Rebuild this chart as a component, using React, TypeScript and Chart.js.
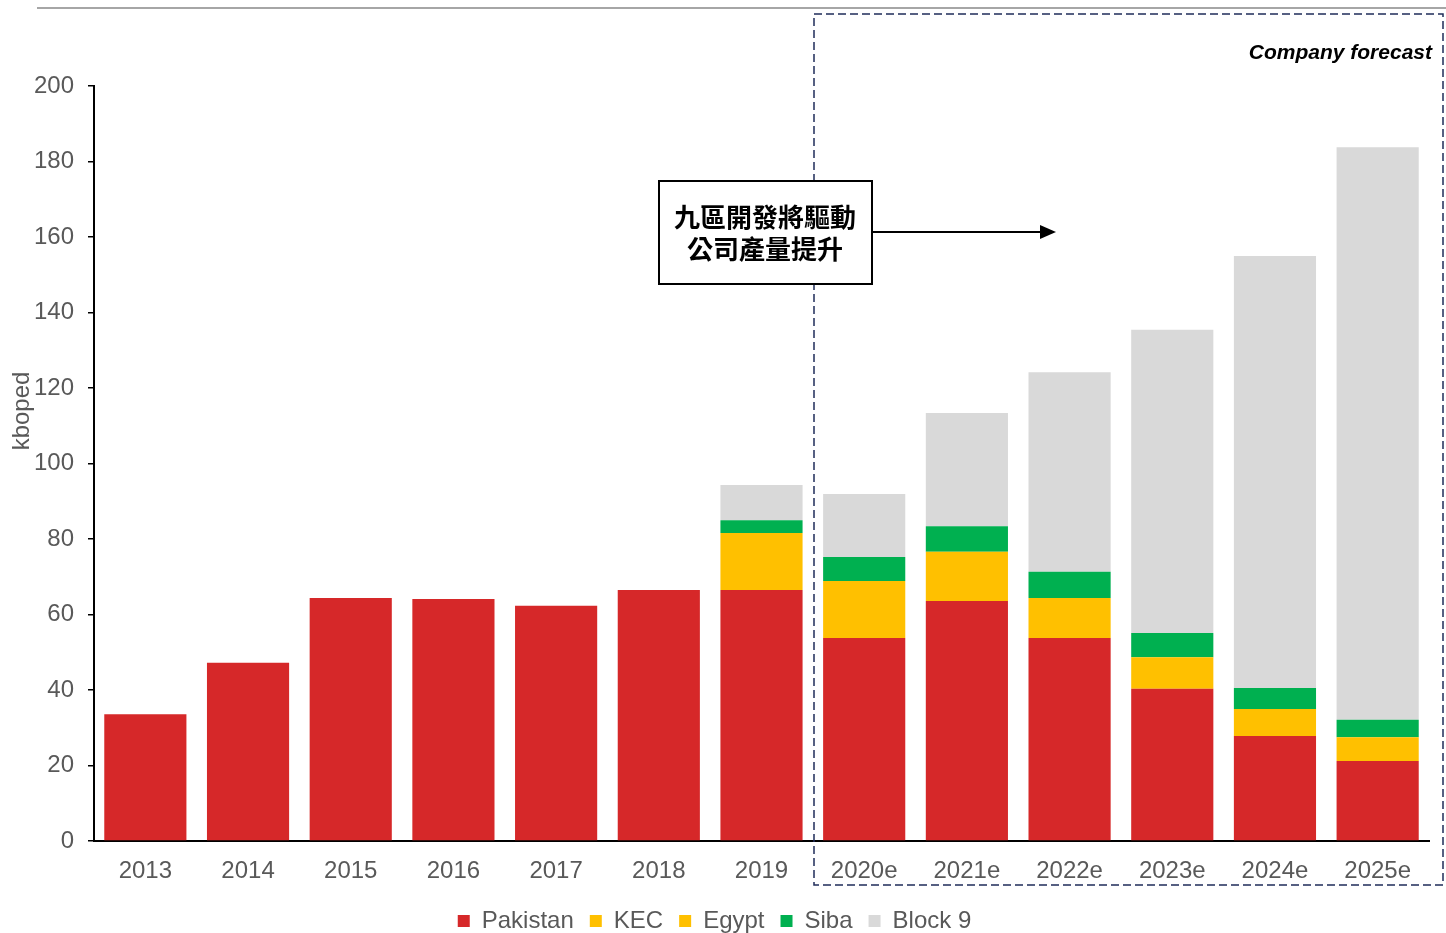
import React, { useEffect, useRef } from 'react';
import { Chart, registerables } from 'chart.js';

Chart.register(...registerables);

const categories = ['2013', '2014', '2015', '2016', '2017', '2018', '2019', '2020e', '2021e', '2022e', '2023e', '2024e', '2025e'];
const pakistan = [33.6, 47.2, 64.4, 64.1, 62.3, 66.5, 66.5, 53.8, 63.6, 53.8, 40.3, 27.8, 21.2];
const kec = [0, 0, 0, 0, 0, 0, 15.1, 15.1, 13.0, 10.6, 8.4, 7.2, 6.3];
const egypt = [0, 0, 0, 0, 0, 0, 0, 0, 0, 0, 0, 0, 0];
const siba = [0, 0, 0, 0, 0, 0, 3.4, 6.3, 6.8, 6.9, 6.4, 5.5, 4.6];
const block9 = [0, 0, 0, 0, 0, 0, 9.3, 16.7, 30.0, 52.9, 80.3, 114.5, 151.7];
const yTicks = [0, 20, 40, 60, 80, 100, 120, 140, 160, 180, 200];

const seriesNames = ['Pakistan', 'KEC', 'Egypt', 'Siba', 'Block 9'];
const seriesColors = ['#D62829', '#FFC000', '#FFC000', '#00B050', '#D9D9D9'];

const yTitle = 'kboped';
const forecastLabel = 'Company forecast';
const noteLines = ['九區開發將驅動', '公司產量提升'];

const FONT = "'Liberation Sans', Arial, sans-serif";
const GREY = '#595959';

export default function App() {
  const ref = useRef<HTMLCanvasElement | null>(null);

  useEffect(() => {
    if (!ref.current) return;
    const overlay = {
      id: 'overlay',
      afterDraw(chart: any) {
        const ctx = chart.ctx as CanvasRenderingContext2D;
        ctx.save();
        // top grey rule
        ctx.strokeStyle = '#A6A6A6';
        ctx.lineWidth = 2;
        ctx.beginPath();
        ctx.moveTo(37, 8);
        ctx.lineTo(1446, 8);
        ctx.stroke();

        // dashed forecast box
        ctx.strokeStyle = '#1F2D5A';
        ctx.lineWidth = 1.5;
        ctx.setLineDash([8, 4]);
        ctx.strokeRect(814, 14, 629, 871);
        ctx.setLineDash([]);

        // Company forecast
        ctx.fillStyle = '#000';
        ctx.font = `italic bold 21px ${FONT}`;
        ctx.textAlign = 'right';
        ctx.textBaseline = 'middle';
        ctx.fillText(forecastLabel, 1432, 53);

        // annotation box
        ctx.fillStyle = '#fff';
        ctx.fillRect(658, 180, 214, 104);
        ctx.strokeStyle = '#000';
        ctx.lineWidth = 2;
        ctx.strokeRect(659, 181, 213, 103);
        ctx.fillStyle = '#000';
        ctx.font = `bold 26px 'Noto Sans CJK TC', sans-serif`;
        ctx.textAlign = 'center';
        ctx.textBaseline = 'middle';
        ctx.fillText(noteLines[0], 765, 217);
        ctx.fillText(noteLines[1], 765, 249);

        // arrow
        ctx.beginPath();
        ctx.moveTo(873, 232);
        ctx.lineTo(1042, 232);
        ctx.stroke();
        ctx.beginPath();
        ctx.moveTo(1056, 232);
        ctx.lineTo(1040, 225);
        ctx.lineTo(1040, 239);
        ctx.closePath();
        ctx.fill();

        // y axis title
        ctx.translate(22, 411);
        ctx.rotate(-Math.PI / 2);
        ctx.fillStyle = GREY;
        ctx.font = `24px ${FONT}`;
        ctx.textAlign = 'center';
        ctx.textBaseline = 'middle';
        ctx.fillText(yTitle, 0, 0);
        ctx.restore();
      },
    };

    const seriesData = [pakistan, kec, egypt, siba, block9];
    const chart = new Chart(ref.current, {
      type: 'bar',
      data: {
        labels: categories,
        datasets: seriesNames.map((name, i) => ({
          label: name,
          data: seriesData[i],
          backgroundColor: seriesColors[i],
          borderWidth: 0,
          barPercentage: 0.8,
          categoryPercentage: 1,
        })),
      },
      options: {
        responsive: false,
        animation: false,
        layout: { padding: { top: 86, right: 17, left: 0, bottom: 0 } },
        plugins: {
          legend: {
            position: 'bottom',
            labels: {
              boxWidth: 12,
              boxHeight: 12,
              padding: 16,
              color: GREY,
              font: { size: 24, family: FONT },
            },
          },
          tooltip: { enabled: false },
        },
        scales: {
          x: {
            stacked: true,
            grid: { display: false },
            border: { display: true, color: '#000', width: 2 },
            ticks: { color: GREY, font: { size: 24, family: FONT }, padding: 8, maxRotation: 0, autoSkip: false },
            afterFit: (s: any) => { s.height = 52; },
          },
          y: {
            stacked: true,
            min: 0,
            max: 200,
            afterBuildTicks: (s: any) => { s.ticks = yTicks.map((v) => ({ value: v })); },
            ticks: { color: GREY, font: { size: 24, family: FONT }, padding: 14 },
            grid: { display: true, drawOnChartArea: false, drawTicks: true, tickLength: 6, color: '#000', lineWidth: 1.5 },
            border: { display: true, color: '#000', width: 2 },
            afterFit: (s: any) => { s.width = 94; },
          },
        },
      },
      plugins: [overlay],
    } as any);
    return () => chart.destroy();
  }, []);

  return (
    <div style={{ position: 'absolute', left: 0, top: 0, width: 1446, height: 933, overflow: 'hidden', background: '#fff' }}>
      <canvas ref={ref} width={1446} height={943} style={{ display: 'block' }} />
    </div>
  );
}
